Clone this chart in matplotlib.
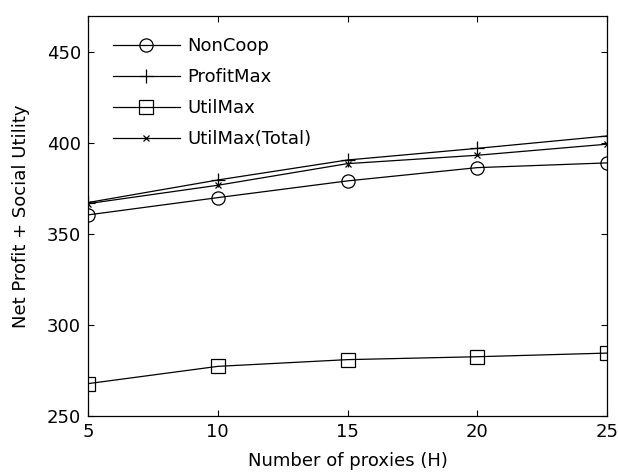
import matplotlib
matplotlib.use("Agg")
import matplotlib.pyplot as plt

plt.rcParams['font.family'] = ['DejaVu Sans']

proxies = [5, 10, 15, 20, 25]
noncoop = [360.6, 370.1, 379.3, 386.6, 389.2]
profitmax = [367.4, 379.8, 390.8, 397.2, 404.0]
utilmax = [267.8, 277.3, 281.0, 282.6, 284.6]
utilmax_total = [366.8, 376.9, 388.8, 393.4, 399.5]

fig = plt.figure(figsize=(6.18, 4.73), dpi=100)
ax = fig.add_axes([0.1424, 0.1205, 0.8398, 0.8457])

lw = 0.9
ax.plot(proxies, noncoop, color='black', lw=lw, marker='o', ms=9.5, mfc='none', mec='black', mew=0.9, label='NonCoop')
ax.plot(proxies, profitmax, color='black', lw=lw, marker='+', ms=10, mew=0.9, label='ProfitMax')
ax.plot(proxies, utilmax, color='black', lw=lw, marker='s', ms=9.5, mfc='none', mec='black', mew=0.9, label='UtilMax')
ax.plot(proxies, utilmax_total, color='black', lw=lw, marker='x', ms=5, mew=0.9, label='UtilMax(Total)')

ax.set_xlim(5, 25)
ax.set_ylim(250, 470)
ax.set_xticks([5, 10, 15, 20, 25])
ax.set_yticks([250, 300, 350, 400, 450])
ax.tick_params(direction='in', top=True, right=True, labelsize=13, length=4, width=0.8, pad=5)
for s in ax.spines.values():
    s.set_linewidth(0.9)

ax.set_xlabel('Number of proxies (H)', fontsize=13, labelpad=8)
ax.set_ylabel('Net Profit + Social Utility', fontsize=13, labelpad=12)

ax.legend(loc='upper left', frameon=False, fontsize=13, handlelength=3.7,
          handletextpad=0.4, labelspacing=0.72, borderpad=0, borderaxespad=0,
          bbox_to_anchor=(0.048, 0.9475))

fig.savefig('out.png', dpi=100)
